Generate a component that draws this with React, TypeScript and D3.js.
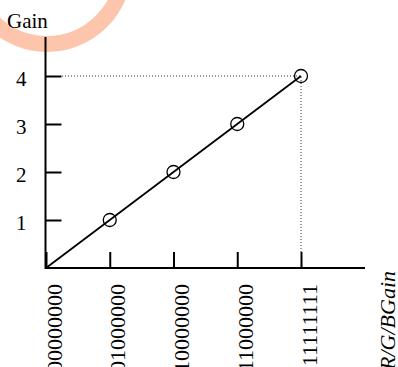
import { useRef, useEffect } from "react";
import * as d3 from "d3";

// R/G/B gain register codes on the x axis and the resulting gain
const codes = ["00000000", "01000000", "10000000", "11000000", "11111111"];
const gains = [0, 1, 2, 3, 4];
const gainTicks = [1, 2, 3, 4];
const yTitle = "Gain";
const xTitle = "R/G/BGain";

const FONT = "'Liberation Serif', 'Times New Roman', serif";
const FS = 21;
const FS_X = 22;

export default function App() {
  const svgRef = useRef<SVGSVGElement>(null);
  const width = 398;
  const height = 367;

  useEffect(() => {
    const svg = d3.select(svgRef.current);
    svg.selectAll("*").remove();

    const x0 = 46;
    const y0 = 268;
    const tick = 16;

    const x = d3.scalePoint<string>().domain(codes).range([x0, 301]);
    const y = d3.scaleLinear().domain([0, 4]).range([y0, 76]);

    // pale watermark arc in the corner
    svg
      .append("circle")
      .attr("cx", 47)
      .attr("cy", -33)
      .attr("r", 77)
      .attr("fill", "none")
      .attr("stroke", "#fdc6ac")
      .attr("stroke-width", 16);

    // guide lines to the last point
    const last = codes.length - 1;
    const px = x(codes[last])!;
    const py = y(gains[last]);
    svg
      .append("path")
      .attr("d", `M${x0 + tick},${py}H${px}V${y0 - tick}`)
      .attr("fill", "none")
      .attr("stroke", "#000")
      .attr("stroke-width", 0.8)
      .attr("stroke-dasharray", "1,2");

    // y axis
    const yAxis = d3
      .axisLeft(y)
      .tickValues(gainTicks)
      .tickSize(-tick)
      .tickPadding(19)
      .tickFormat(d3.format("d"));
    const gy = svg.append("g").attr("transform", `translate(${x0 - 0.5},0)`).call(yAxis);
    gy.select(".domain").remove();
    gy.selectAll("line").attr("stroke", "#000").attr("stroke-width", 2);
    gy.selectAll("text")
      .attr("dy", null)
      .attr("y", 9)
      .attr("font-family", FONT)
      .attr("font-size", FS)
      .attr("fill", "#000");

    // x axis
    const xAxis = d3.axisBottom(x).tickSize(-tick).tickPadding(0);
    const gx = svg.append("g").attr("transform", `translate(0,${y0})`).call(xAxis);
    gx.select(".domain").remove();
    gx.selectAll("line").attr("stroke", "#000").attr("stroke-width", 2);
    gx.selectAll("text")
      .attr("y", null)
      .attr("dy", null)
      .attr("text-anchor", "end")
      .attr("transform", "translate(15,16) rotate(-90)")
      .attr("font-family", FONT)
      .attr("font-size", FS_X)
      .attr("fill", "#000");

    // axis lines
    svg
      .append("path")
      .attr("d", `M${x0 - 0.5},37V${y0}H365`)
      .attr("fill", "none")
      .attr("stroke", "#000")
      .attr("stroke-width", 2);

    // data line
    const line = d3
      .line<number>()
      .x((_, i) => x(codes[i])!)
      .y((d) => y(d));
    svg
      .append("path")
      .datum(gains)
      .attr("d", line)
      .attr("fill", "none")
      .attr("stroke", "#000")
      .attr("stroke-width", 1.8);

    svg
      .selectAll(".pt")
      .data(gains.slice(1))
      .enter()
      .append("circle")
      .attr("cx", (_, i) => x(codes[i + 1])!)
      .attr("cy", (d) => y(d))
      .attr("r", 6.5)
      .attr("fill", "none")
      .attr("stroke", "#000")
      .attr("stroke-width", 1.3);

    // titles
    svg
      .append("text")
      .attr("x", 7)
      .attr("y", 27.5)
      .attr("font-family", FONT)
      .attr("font-size", FS)
      .text(yTitle);

    svg
      .append("text")
      .attr("text-anchor", "end")
      .attr("transform", `translate(395,271) rotate(-90)`)
      .attr("font-family", FONT)
      .attr("font-size", FS_X)
      .attr("font-style", "italic")
      .text(xTitle);
  }, []);

  return (
    <svg
      ref={svgRef}
      width={width}
      height={height}
      style={{ position: "absolute", left: 0, top: 0, background: "#fff" }}
    />
  );
}
